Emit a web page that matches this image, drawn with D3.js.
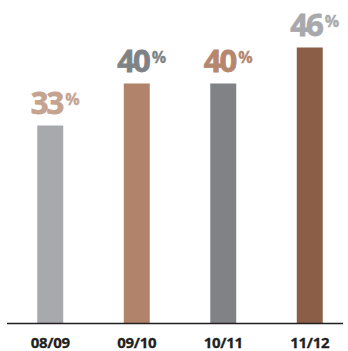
<!DOCTYPE html>
<html>
<head>
<meta charset="utf-8">
<script src="https://cdn.jsdelivr.net/npm/d3@7"></script>
<style>
  html, body { margin: 0; padding: 0; background: #ffffff; }
  svg { display: block; }
</style>
</head>
<body>
<script>
// Share by season
const seasons = ["08/09", "09/10", "10/11", "11/12"];
const shares = [33, 40, 40, 46];
const barColors = ["#a7a9ac", "#b0836a", "#808285", "#8b5e47"];
const labelColors = ["#c4a390", "#808285", "#b5876d", "#a7a9ac"];

const width = 348, height = 351;
const svg = d3.select("body").append("svg")
  .attr("width", width).attr("height", height);

const baseline = 323.5;

const x = d3.scaleBand()
  .domain(seasons)
  .range([7, 353])
  .paddingInner(0.7)
  .paddingOuter(0.35);

const y = d3.scaleLinear()
  .domain([0, 50])
  .range([baseline, baseline - 300]);

// bars
svg.selectAll("rect.bar")
  .data(seasons)
  .join("rect")
  .attr("class", "bar")
  .attr("x", d => x(d))
  .attr("width", x.bandwidth())
  .attr("y", (d, i) => y(shares[i]))
  .attr("height", (d, i) => baseline - y(shares[i]))
  .attr("fill", (d, i) => barColors[i]);

// value labels: heavy digits with a raised smaller percent sign
const labels = svg.selectAll("text.value")
  .data(seasons)
  .join("text")
  .attr("class", "value")
  .attr("x", d => x(d) + x.bandwidth() / 2 + 5)
  .attr("y", (d, i) => y(shares[i]) - 12)
  .attr("text-anchor", "middle")
  .attr("fill", (d, i) => labelColors[i])
  .attr("stroke", (d, i) => labelColors[i])
  .attr("stroke-width", 0.8)
  .style("font-family", "'Open Sans', sans-serif")
  .style("font-weight", 700)
  .style("letter-spacing", "-2px");

labels.append("tspan")
  .style("font-size", "31px")
  .text((d, i) => shares[i]);
labels.append("tspan")
  .style("font-size", "16px")
  .style("letter-spacing", "0px")
  .attr("stroke-width", 0.3)
  .attr("dx", 3)
  .attr("dy", -9)
  .text("%");

// axis line and season labels
const axis = svg.append("g")
  .attr("transform", `translate(0,${baseline})`)
  .call(d3.axisBottom(x).tickSize(0).tickPadding(14));
axis.select(".domain")
  .attr("d", "M7,0H343")
  .attr("stroke", "#231f20")
  .attr("stroke-width", 1.6);
axis.selectAll("text")
  .attr("fill", "#231f20")
  .attr("stroke", "#231f20")
  .attr("stroke-width", 0.3)
  .style("font-family", "'Open Sans', sans-serif")
  .style("font-weight", 700)
  .style("font-size", "15px")
  .style("letter-spacing", "-0.3px");
</script>
</body>
</html>
